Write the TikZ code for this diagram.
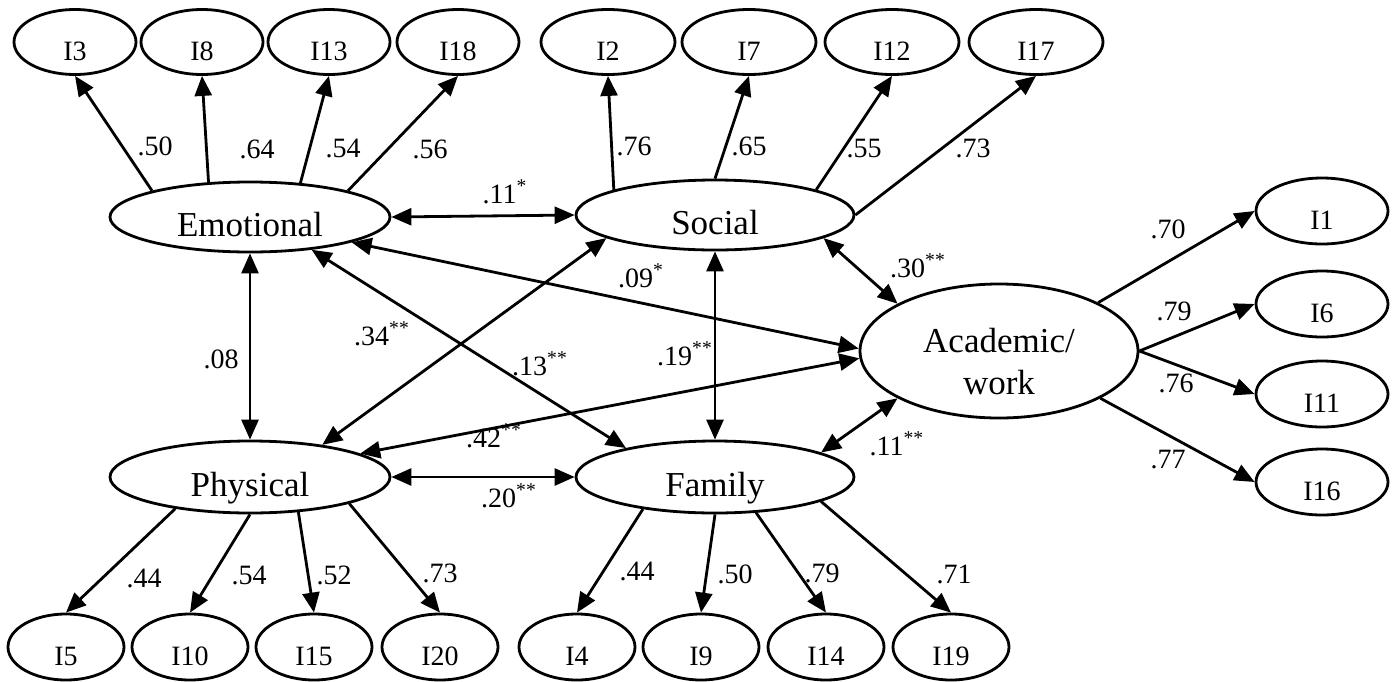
\documentclass[tikz,border=0pt]{standalone}
\usepackage{fontspec}
\setmainfont{Liberation Serif}
\usetikzlibrary{shapes.geometric,arrows.meta}

\tikzset{
  item/.style={ellipse,draw,line width=1.4pt,inner sep=0pt,minimum width=61pt,minimum height=32.5pt,
    font=\fontsize{14}{16}\selectfont,text height=18pt,text depth=0pt},
  itemw/.style={item,minimum width=67pt},
  itemb/.style={item,minimum width=58pt,minimum height=33pt},
  latent/.style={ellipse,draw,line width=1.4pt,inner sep=0pt,minimum width=140pt,minimum height=35pt,
    font=\fontsize{17.5}{21}\selectfont,text height=19.5pt,text depth=0pt},
  lbl/.style={anchor=base,inner sep=0pt,font=\fontsize{14}{16}\selectfont},
  load/.style={->,line width=1.4pt},
  cov/.style={<->,line width=1.4pt}
}

\begin{document}
\begin{tikzpicture}[x=0.5pt,y=-0.5pt,>={Triangle[length=10pt,width=8.5pt]}]
\useasboundingbox (0,0) rectangle (1393,681);

\node[latent] (emo) at (250,217) {Emotional};
\node[latent,minimum width=139pt] (soc) at (715,215) {Social};
\node[latent,minimum height=36pt] (phy) at (250,477) {Physical};
\node[latent,minimum width=139pt,minimum height=36pt] (fam) at (715,477) {Family};
\node[ellipse,draw,line width=1.4pt,inner sep=0pt,minimum width=139pt,minimum height=67pt,
  align=center,font=\fontsize{17.5}{21}\selectfont] (aca) at (999,351) {\rule{0pt}{23pt}Academic/\\work};

\node[item] (i3) at (75,42) {I3};
\node[item] (i8) at (202,42) {I8};
\node[item] (i13) at (329,42) {I13};
\node[item] (i18) at (458,42) {I18};
\node[itemw] (i2) at (608,42) {I2};
\node[itemw] (i7) at (749,42) {I7};
\node[itemw] (i12) at (892,42) {I12};
\node[itemw] (i17) at (1036,42) {I17};

\node[itemw,minimum width=66pt,minimum height=33pt] (i1) at (1322,211) {I1};
\node[itemw,minimum width=66pt,minimum height=33pt] (i6) at (1322,304) {I6};
\node[itemw,minimum width=66pt,minimum height=33pt] (i11) at (1322,394) {I11};
\node[itemw,minimum width=66pt,minimum height=33pt] (i16) at (1322,482) {I16};

\node[itemb] (i5) at (66,647) {I5};
\node[itemb] (i10) at (190,647) {I10};
\node[itemb] (i15) at (314,647) {I15};
\node[itemb] (i20) at (440,647) {I20};
\node[itemb] (i4) at (577,647) {I4};
\node[itemb] (i9) at (701,647) {I9};
\node[itemb] (i14) at (826,647) {I14};
\node[itemb] (i19) at (951,647) {I19};

\draw[load] (emo.165) -- (i3.south);
\draw[load] (emo.140) -- (i8.south);
\draw[load] (emo.34) -- (i13.south);
\draw[load] (emo.15) -- (i18.south);
\draw[load] (soc.166) -- (i2.south);
\draw[load] (soc.north) -- (i7.south);
\draw[load] (soc.14) -- (i12.south);
\draw[load] (soc.east) -- (i17.south);
\draw[load] (aca.26) -- (i1.west);
\draw[load] (aca.east) -- (i6.west);
\draw[load] (aca.east) -- (i11.west);
\draw[load] (aca.-25) -- (i16.west);
\draw[load] (phy.203) -- (i5.north);
\draw[load] (phy.south) -- (i10.north);
\draw[load] (phy.-36) -- (i15.north);
\draw[load] (phy.-15) -- (i20.north);
\draw[load] (fam.204) -- (i4.north);
\draw[load] (fam.south) -- (i9.north);
\draw[load] (fam.-41) -- (i14.north);
\draw[load] (fam.-13) -- (i19.north);

\draw[cov] (emo.east) -- (soc.west);
\draw[cov] (emo.south) -- (phy.north);
\draw[cov] (emo.-14) -- (aca.179);
\draw[cov] (emo.-28) -- (fam.162);
\draw[cov] (phy.24) -- (soc.192);
\draw[cov] (phy.12) -- (aca.183);
\draw[cov] (soc.south) -- (fam.north);
\draw[cov] (soc.-12) -- (aca.155);
\draw[cov] (fam.13) -- (aca.205);
\draw[cov] (phy.east) -- (fam.west);

\node[lbl] at (155,155) {.50};
\node[lbl] at (257,158) {.64};
\node[lbl] at (343,157) {.54};
\node[lbl] at (430,158) {.56};
\node[lbl] at (634,155) {.76};
\node[lbl] at (749,155) {.65};
\node[lbl] at (864,157) {.55};
\node[lbl] at (973,157) {.73};
\node[lbl] at (1168,238) {.70};
\node[lbl] at (1174,320) {.79};
\node[lbl] at (1176,392) {.76};
\node[lbl] at (1168,468) {.77};
\node[lbl] at (144,587) {.44};
\node[lbl] at (249,584) {.54};
\node[lbl] at (334,584) {.52};
\node[lbl] at (440,582) {.73};
\node[lbl] at (637,580) {.44};
\node[lbl] at (735,583) {.50};
\node[lbl] at (822,582) {.79};
\node[lbl] at (954,583) {.71};

\node[lbl] at (505,203) {.11\textsuperscript{*}};
\node[lbl] at (221,368) {.08};
\node[lbl] at (641,287) {.09\textsuperscript{*}};
\node[lbl] at (382,345) {.34\textsuperscript{**}};
\node[lbl] at (540,375) {.13\textsuperscript{**}};
\node[lbl] at (685,365) {.19\textsuperscript{**}};
\node[lbl] at (918,277) {.30\textsuperscript{**}};
\node[lbl] at (494,447) {.42\textsuperscript{**}};
\node[lbl] at (897,455) {.11\textsuperscript{**}};
\node[lbl] at (509,507) {.20\textsuperscript{**}};
\end{tikzpicture}
\end{document}
